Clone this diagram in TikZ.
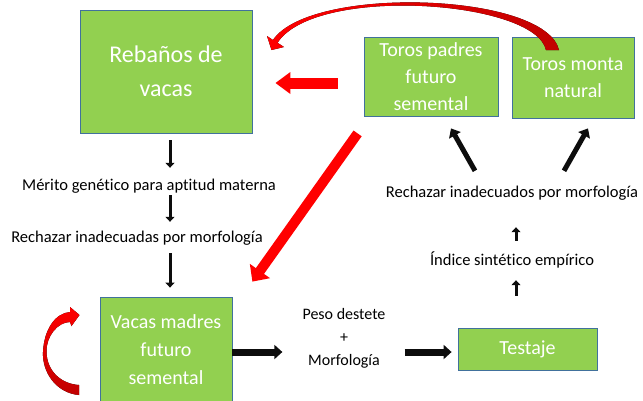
\documentclass[tikz,border=0pt]{standalone}
\usepackage{fontspec}
\setmainfont{Carlito}[Ligatures=NoCommon]
\usetikzlibrary{arrows.meta}
\definecolor{boxgreen}{HTML}{92D050}
\definecolor{boxline}{HTML}{41719C}
\definecolor{darkred}{HTML}{C00000}
\definecolor{arrowblk}{HTML}{0D0D0D}

\begin{document}
\begin{tikzpicture}[x=1pt,y=-1pt,
        box/.style={draw=boxline, line width=0.8pt, fill=boxgreen, text=white, align=center, inner sep=0pt},
        lbl/.style={font=\fontsize{16.5}{23}\selectfont, inner sep=0pt, text height=12pt, text depth=4pt},
        dnarrow/.style={draw=arrowblk, line width=3pt, -{Triangle[length=5pt,width=9pt]}},
        widearrow/.style={draw=arrowblk, line width=7pt, -{Triangle[length=8pt,width=14pt]}},
        diagarrow/.style={draw=arrowblk, line width=5pt, -{Triangle[length=8pt,width=13pt]}},
        redarrow/.style={draw=red, line width=10pt, -{Triangle[length=13pt,width=24pt]}}]
    \useasboundingbox (0,0) rectangle (643,400);

    % cajas
    \node[box, minimum width=172pt, minimum height=123pt, font=\fontsize{24}{34}\selectfont] (reb) at (166,71.5) {Rebaños de\\vacas};
    \node[box, minimum width=134pt, minimum height=79pt, font=\fontsize{20}{27}\selectfont] (tpad) at (431,76.5) {Toros padres\\futuro\\semental};
    \node[box, minimum width=122pt, minimum height=81pt, font=\fontsize{20}{27}\selectfont] (tmon) at (573,77.5) {Toros monta\\natural};
    \node[box, minimum width=132pt, minimum height=106pt, font=\fontsize{20}{28}\selectfont] (vmad) at (166,350) {Vacas madres\\futuro\\semental};
    \node[box, minimum width=139pt, minimum height=42pt, font=\fontsize{20}{27}\selectfont] (test) at (527.5,349) {Testaje};

    % textos
    \node[lbl] (merito) at (149,186) {Mérito genético para aptitud materna};
    \node[lbl] (rechV) at (137,238) {Rechazar inadecuadas por morfología};
    \node[lbl] (rechT) at (512,193) {Rechazar inadecuados por morfología};
    \node[lbl] (indice) at (512,261) {Índice sintético empírico};
    \node[font=\fontsize{16}{23}\selectfont, align=center, inner sep=0pt] (peso) at (344,338) {Peso destete\\+\\Morfología};

    \coordinate (col) at (170,0);
    \coordinate (col2) at (516,0);
    \coordinate (row) at (0,352);
    \coordinate (rrow) at (0,83);

    % flechas negras
    \draw[dnarrow, shorten <=7pt, shorten >=10pt] (reb.south -| col) -- (merito.north -| col);
    \draw[dnarrow, shorten <=1pt, shorten >=8pt] (merito.south -| col) -- (rechV.north -| col);
    \draw[dnarrow, shorten <=7pt, shorten >=9pt] (rechV.south -| col) -- (vmad.north -| col);
    \draw[widearrow, shorten >=20pt] (vmad.east |- row) -- (peso.west |- row);
    \draw[widearrow, shorten <=19pt, shorten >=6pt] (peso.east |- row) -- (test.west |- row);
    \draw[dnarrow, shorten <=32pt, shorten >=11pt] (test.north -| col2) -- (indice.south -| col2);
    \draw[dnarrow, shorten <=12pt, shorten >=26pt] (indice.north -| col2) -- (rechT.south -| col2);
    \draw[diagarrow] ([xshift=-37pt,yshift=14pt]rechT.north) -- ([xshift=20pt,yshift=-12pt]tpad.south);
    \draw[diagarrow] ([xshift=52pt,yshift=14pt]rechT.north) -- ([xshift=15pt,yshift=-10pt]tmon.south);

    % flechas rojas
    \draw[redarrow, line width=11pt, -{Triangle[length=15pt,width=21pt]}, shorten <=26pt, shorten >=23pt] (tpad.west |- rrow) -- (reb.east |- rrow);
    \draw[redarrow] ([xshift=-6pt,yshift=-17pt]tpad.south west) -- ([xshift=20pt,yshift=15pt]vmad.north east);
    \fill[left color=red, right color=darkred]
        (271.5,50) -- (267,36) -- (273,40) .. controls (310,-15) and (545,-8) .. (559,50)
        -- (546,50) .. controls (535,0) and (315,-15) .. (277.5,42.8) -- (284,47) -- cycle;
    \fill[top color=red, bottom color=darkred]
        (79,395) .. controls (56,393) and (42,372) .. (43,352) .. controls (44,330) and (55,313) .. (70,312)
        -- (70,307) -- (79.5,315) -- (71.5,326) -- (70,322)
        .. controls (58,322) and (46,336) .. (46.5,352) .. controls (47,372) and (62,384) .. (79,385) -- cycle;
\end{tikzpicture}
\end{document}
